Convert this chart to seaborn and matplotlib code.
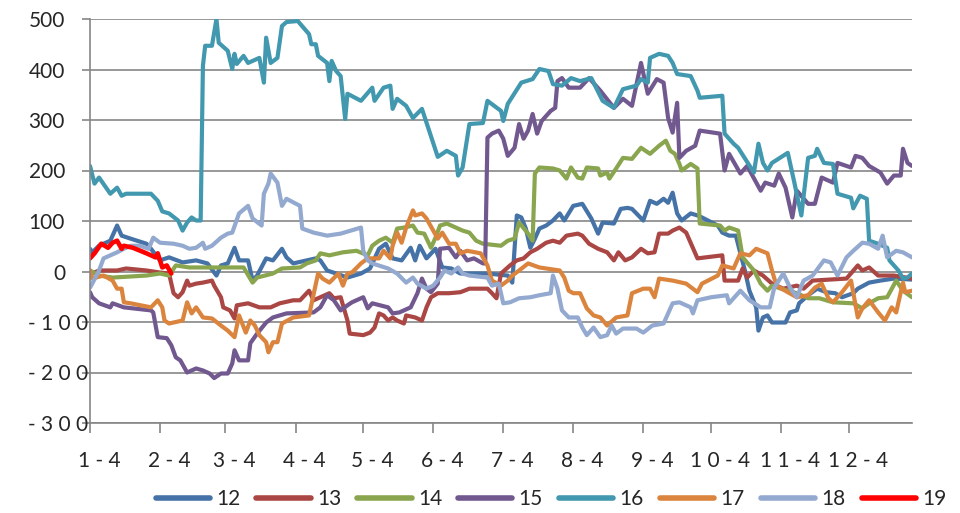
import numpy as np
import pandas as pd
import matplotlib
matplotlib.use("Agg")
import matplotlib.pyplot as plt
import seaborn as sns
from matplotlib.lines import Line2D
from matplotlib.transforms import ScaledTranslation

# Day offsets from the first date on the axis (Jan 4) and values per series
days_12 = [0, 1, 4, 9, 12, 14, 18, 25, 27, 31, 35, 41, 47, 52, 56, 58, 61, 64, 66, 70,
           72, 74, 78, 81, 85, 87, 90, 100, 102, 105, 109, 114, 120, 124, 128, 131, 134, 138, 142, 144,
           146, 149, 153, 156, 160, 164, 176, 185, 187, 189, 191, 193, 195, 197, 199, 202, 205, 208, 210, 214,
           218, 222, 225, 227, 232, 235, 238, 240, 245, 248, 251, 254, 256, 258, 260, 262, 266, 269, 271, 278,
           280, 283, 286, 288, 290, 292, 295, 296, 298, 300, 302, 308, 310, 313, 314, 318, 322, 326, 330, 333,
           338, 340, 345, 350, 356, 364]
vals_12 = [45, 38, 51, 61, 91, 71, 65, 55, 45, 22, 28, 18, 22, 16, -8, 12, 16, 47, 22, 22,
           -18, -8, 26, 22, 45, 28, 16, 26, 22, 2, -4, -12, -4, 6, 45, 55, 26, 22, 47, 22,
           51, 26, 45, 8, 6, -4, -4, -8, -22, 111, 107, 85, 47, 65, 85, 91, 101, 115, 101, 130,
           134, 105, 75, 97, 95, 124, 126, 124, 101, 140, 134, 144, 136, 156, 115, 101, 115, 111, 107, 91,
           77, 71, 71, 36, 2, -38, -71, -117, -91, -87, -101, -101, -81, -77, -63, -47, -34, -41, -43, -51,
           -43, -34, -22, -18, -14, -16]

days_13 = [0, 1, 4, 12, 16, 25, 31, 35, 37, 39, 41, 43, 44, 47, 50, 54, 55, 58, 59, 62,
           64, 65, 70, 75, 80, 84, 90, 93, 97, 99, 102, 106, 108, 111, 114, 115, 121, 124, 126, 128,
           130, 132, 134, 136, 139, 140, 144, 147, 149, 151, 154, 159, 164, 168, 176, 178, 180, 182, 186, 189,
           192, 195, 198, 202, 205, 208, 211, 216, 218, 221, 225, 229, 232, 234, 237, 240, 244, 247, 250, 252,
           256, 258, 261, 264, 269, 280, 281, 287, 289, 291, 294, 298, 302, 307, 313, 316, 320, 335, 340, 342,
           345, 349, 356, 364]
vals_13 = [2, -4, 2, 2, 6, 2, -2, -4, -43, -51, -41, -18, -28, -24, -22, -18, -28, -51, -71, -77,
           -93, -67, -63, -71, -71, -63, -57, -57, -38, -57, -51, -43, -53, -51, -97, -123, -126, -121, -111, -83,
           -87, -97, -91, -97, -103, -87, -91, -97, -71, -51, -43, -43, -41, -34, -34, -43, -53, -4, 12, 22,
           26, 38, 45, 57, 61, 57, 71, 75, 71, 55, 45, 38, 22, 38, 22, 28, 45, 36, 38, 75,
           75, 81, 87, 77, 26, 32, -18, -18, 6, -12, 2, -8, -24, -34, -28, -34, -18, -14, 12, 2,
           8, -8, -8, -14]

days_14 = [0, 4, 10, 25, 31, 35, 38, 44, 59, 68, 72, 74, 81, 85, 93, 96, 100, 102, 106, 112,
           118, 123, 125, 128, 131, 134, 136, 139, 143, 145, 148, 151, 153, 155, 158, 162, 165, 168, 171, 174,
           182, 185, 188, 190, 194, 196, 197, 199, 205, 208, 211, 213, 216, 218, 220, 225, 226, 229, 230, 233,
           236, 240, 244, 248, 252, 255, 257, 259, 261, 262, 266, 269, 270, 279, 281, 283, 287, 288, 289, 294,
           297, 300, 302, 306, 313, 318, 323, 329, 338, 342, 345, 349, 353, 357, 360, 364]
vals_14 = [2, -8, -12, -8, -4, -8, 12, 8, 8, 8, -22, -12, -4, 6, 8, 16, 22, 36, 32, 38,
           41, 32, 51, 61, 67, 57, 85, 87, 91, 77, 75, 47, 67, 91, 95, 87, 81, 77, 61, 55,
           51, 61, 65, 97, 75, 61, 194, 206, 204, 200, 184, 206, 186, 184, 206, 204, 190, 196, 184, 204,
           225, 223, 245, 233, 249, 259, 239, 233, 213, 200, 213, 204, 95, 91, 81, 87, 81, 55, 28, 2,
           -24, -38, -28, -34, -43, -53, -53, -61, -63, -73, -63, -53, -51, -18, -38, -51]

days_15 = [0, 1, 4, 9, 10, 15, 27, 28, 30, 34, 36, 38, 40, 43, 47, 50, 53, 55, 58, 61,
           63, 64, 66, 70, 71, 74, 78, 81, 87, 99, 102, 105, 108, 111, 114, 116, 121, 123, 125, 132,
           134, 137, 142, 145, 147, 149, 151, 154, 155, 159, 162, 164, 167, 170, 174, 175, 176, 178, 181, 183,
           185, 188, 190, 192, 194, 196, 198, 200, 204, 206, 207, 209, 212, 217, 221, 226, 232, 236, 240, 244,
           247, 251, 254, 256, 258, 260, 261, 264, 268, 270, 279, 281, 283, 288, 291, 297, 299, 303, 305, 308,
           311, 313, 318, 321, 324, 329, 331, 337, 339, 342, 345, 350, 353, 356, 359, 360, 362, 364]
vals_15 = [-41, -51, -63, -71, -63, -71, -77, -81, -130, -132, -146, -170, -176, -200, -192, -196, -202, -211, -202, -202,
           -182, -156, -176, -176, -142, -123, -101, -91, -83, -81, -71, -47, -57, -77, -67, -61, -51, -73, -63, -71,
           -83, -81, -71, -43, -14, -34, -41, -24, 45, 47, 28, 41, 22, 26, 16, 16, 265, 273, 279, 263,
           229, 245, 292, 263, 279, 312, 273, 298, 318, 324, 377, 383, 364, 364, 383, 358, 324, 342, 328, 413,
           352, 381, 374, 304, 275, 334, 225, 239, 249, 279, 273, 200, 233, 194, 209, 160, 176, 170, 194, 166,
           107, 160, 134, 134, 186, 176, 215, 206, 229, 225, 209, 196, 174, 190, 190, 243, 215, 209]

days_16 = [0, 2, 4, 9, 12, 14, 16, 27, 30, 32, 35, 39, 41, 43, 45, 47, 49, 50, 51, 54,
           56, 57, 61, 63, 64, 65, 68, 70, 75, 77, 78, 80, 83, 85, 87, 92, 97, 98, 100, 101,
           105, 106, 107, 109, 111, 113, 114, 120, 125, 126, 130, 133, 134, 136, 140, 143, 147, 154, 158, 162,
           163, 165, 168, 174, 176, 182, 183, 185, 191, 196, 199, 203, 205, 209, 213, 217, 222, 227, 232, 236,
           242, 244, 247, 248, 252, 256, 258, 260, 266, 269, 270, 280, 281, 285, 287, 294, 296, 298, 300, 302,
           309, 312, 315, 318, 321, 322, 325, 329, 331, 337, 338, 341, 344, 345, 349, 353, 354, 358, 360, 362,
           364]
vals_16 = [209, 174, 186, 154, 166, 150, 154, 154, 140, 119, 115, 101, 81, 97, 107, 101, 101, 407, 447, 447,
           500, 453, 437, 401, 431, 411, 427, 413, 423, 374, 463, 413, 423, 486, 494, 496, 470, 450, 450, 427,
           413, 377, 417, 397, 387, 302, 352, 338, 364, 338, 364, 368, 322, 342, 328, 304, 322, 227, 239, 229,
           190, 206, 292, 294, 338, 318, 298, 332, 374, 381, 401, 397, 371, 368, 383, 377, 383, 338, 324, 361,
           368, 381, 374, 423, 431, 427, 413, 391, 387, 358, 344, 348, 273, 253, 245, 196, 253, 215, 200, 215,
           235, 174, 111, 225, 229, 243, 215, 213, 154, 146, 125, 150, 144, 61, 55, 47, 22, 2, -14, -12,
           -4]

days_17 = [0, 1, 6, 10, 12, 14, 15, 18, 27, 30, 32, 33, 35, 41, 43, 45, 47, 50, 54, 58,
           61, 64, 66, 69, 71, 73, 75, 78, 79, 81, 83, 85, 90, 97, 101, 103, 106, 110, 112, 114,
           116, 120, 123, 128, 130, 133, 134, 136, 138, 140, 143, 144, 147, 149, 152, 154, 156, 159, 162, 164,
           167, 173, 176, 178, 182, 185, 187, 190, 194, 199, 208, 210, 212, 214, 217, 220, 223, 226, 229, 233,
           238, 240, 245, 248, 250, 252, 258, 264, 269, 271, 278, 280, 285, 288, 292, 295, 300, 302, 304, 309,
           313, 318, 321, 324, 327, 329, 333, 337, 340, 342, 345, 349, 352, 355, 357, 360, 361, 364]
vals_17 = [2, -14, -8, -18, -34, -34, -61, -63, -71, -57, -71, -97, -103, -97, -61, -83, -71, -91, -93, -107,
           -117, -130, -87, -121, -97, -107, -126, -140, -160, -140, -140, -103, -91, -87, -4, -14, -22, -4, -28, -4,
           -2, 16, 26, 26, 41, 26, 51, 77, 57, 87, 121, 111, 115, 105, 81, 65, 77, 55, 55, 36,
           41, 36, 12, -18, -28, -18, -8, 2, 16, 8, 2, -12, -38, -43, -43, -73, -87, -91, -107, -91,
           -87, -43, -34, -34, -51, -14, -18, -24, -41, -24, -8, 12, 6, 36, 32, 45, 36, 2, -28, -41,
           -51, -47, -32, -24, -53, -61, -41, -18, -91, -73, -57, -81, -97, -71, -81, -22, -41, -38]

days_18 = [0, 1, 4, 6, 9, 12, 15, 18, 22, 26, 28, 31, 37, 41, 44, 47, 50, 51, 54, 58,
           61, 63, 66, 70, 72, 76, 77, 79, 80, 83, 85, 87, 93, 94, 99, 105, 111, 120, 121, 123,
           125, 132, 136, 140, 143, 145, 149, 152, 155, 157, 160, 163, 165, 168, 176, 178, 181, 183, 186, 190,
           195, 199, 204, 205, 207, 209, 212, 216, 218, 220, 223, 226, 229, 231, 233, 236, 242, 245, 249, 254,
           258, 261, 266, 267, 269, 275, 282, 283, 288, 292, 297, 301, 303, 307, 310, 313, 316, 320, 325, 328,
           331, 335, 338, 342, 345, 349, 351, 353, 357, 360, 364]
vals_18 = [-32, -24, 2, 26, 32, 38, 45, 51, 51, 45, 67, 57, 55, 51, 45, 47, 57, 45, 51, 67,
           75, 77, 115, 130, 105, 91, 154, 174, 194, 176, 130, 144, 130, 85, 77, 71, 75, 87, 41, 22,
           16, 6, -4, -22, -12, -24, -34, -28, -12, 2, -4, 8, -4, -8, -12, -28, -24, -63, -61, -53,
           -51, -47, -43, -8, -34, -77, -91, -91, -111, -126, -111, -130, -126, -107, -123, -113, -113, -121, -107, -103,
           -63, -61, -71, -83, -57, -51, -47, -63, -38, -57, -71, -71, -32, -4, -32, -51, -18, -8, 22, 18,
           -8, 28, 41, 57, 55, 45, 71, 28, 41, 38, 28]

days_19 = [0, 2, 5, 8, 10, 12, 14, 15, 19, 25, 29, 30, 32, 34, 36]
vals_19 = [26, 36, 55, 47, 57, 61, 45, 51, 47, 36, 28, 36, 8, 12, -4]

series_names = ["12", "13", "14", "15", "16", "17", "18", "19"]
series_days = [days_12, days_13, days_14, days_15, days_16, days_17, days_18, days_19]
series_vals = [vals_12, vals_13, vals_14, vals_15, vals_16, vals_17, vals_18, vals_19]
colors = ["#4572A7", "#AA4643", "#89A54E", "#71588F", "#4198AF", "#DB843D", "#93A9CF", "#FF0000"]

month_labels = ["1 - 4", "2 - 4", "3 - 4", "4 - 4", "5 - 4", "6 - 4",
                "7 - 4", "8 - 4", "9 - 4", "1 0 - 4", "1 1 - 4", "1 2 - 4"]
month_days = [0, 31, 60, 91, 121, 152, 183, 214, 245, 275, 306, 336]
y_ticks = [-300, -200, -100, 0, 100, 200, 300, 400, 500]
y_labels = ["- 3 0 0", "- 2 0 0", "- 1 0 0", "0", "100", "200", "300", "400", "500"]

sns.set_style("white")
plt.rcParams["font.family"] = ["Lato", "DejaVu Sans"]

fig = plt.figure(figsize=(9.6, 5.13), dpi=100)
ax = fig.add_axes([90 / 960, 1 - 423 / 513, (912 - 90) / 960, (423 - 19) / 513])

grid_c = "#868686"
for name, d, v, c in zip(series_names, series_days, series_vals, colors):
    df = pd.DataFrame({"day": d, "value": v})
    lw = 3.3 if name == "19" else 3.0
    sns.lineplot(data=df, x="day", y="value", ax=ax, color=c, lw=lw,
                 estimator=None, sort=False, legend=False)
for ln in ax.lines:
    ln.set_solid_joinstyle("round")

ax.set_xlim(0, 364)
ax.set_ylim(-300, 500)
ax.set_xlabel("")
ax.set_ylabel("")

# major ticks carry the marks, minor ticks carry the (slightly offset) labels
ax.set_xticks(month_days)
ax.set_xticklabels([])
ax.set_xticks([m + 4 for m in month_days], labels=month_labels, minor=True)
ax.tick_params(axis="x", which="major", direction="out", length=7, width=1.2, color=grid_c, bottom=True)
ax.tick_params(axis="x", which="minor", length=0, pad=20, labelsize=15)

ax.set_yticks(y_ticks, labels=y_labels)
ax.tick_params(axis="y", direction="out", length=6, width=1.2, color=grid_c, left=True,
               pad=12, labelsize=15)
for lab in ax.get_yticklabels():
    if lab.get_text().startswith("-"):
        lab.set_transform(lab.get_transform() + ScaledTranslation(0.23, 0, fig.dpi_scale_trans))

ax.yaxis.grid(True, color=grid_c, lw=1.2)
ax.set_axisbelow(True)
for s in ["top", "right"]:
    ax.spines[s].set_visible(False)
for s in ["left", "bottom"]:
    ax.spines[s].set_color(grid_c)
    ax.spines[s].set_linewidth(1.2)

handles = [Line2D([0], [0], color=c, lw=4, solid_capstyle="round") for c in colors]
fig.legend(handles, series_names, loc="center", bbox_to_anchor=(0.574, 0.027), ncol=8,
           frameon=False, fontsize=15, handlelength=2.6, handletextpad=0.3,
           columnspacing=0.78, borderpad=0, borderaxespad=0)

fig.savefig("out.png", dpi=100)
